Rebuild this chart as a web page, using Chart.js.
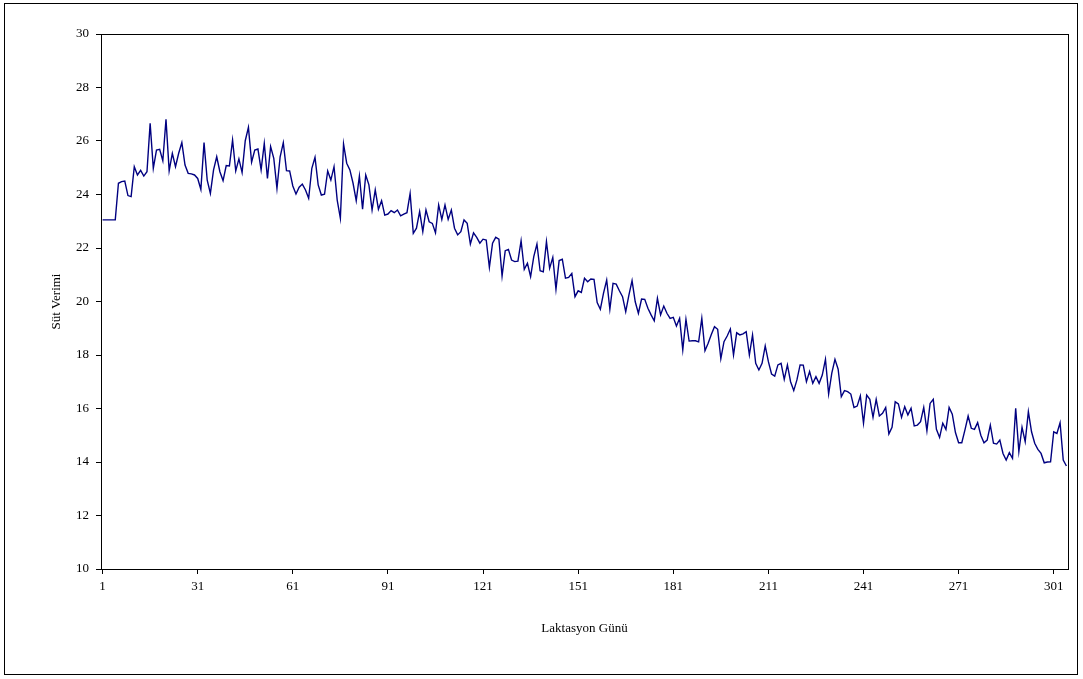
<!DOCTYPE html>
<html>
<head>
<meta charset="utf-8">
<script src="https://cdn.jsdelivr.net/npm/chart.js@4.4.0/dist/chart.umd.min.js"></script>
<style>
  html, body { margin: 0; padding: 0; background: #fff; }
  canvas { display: block; }
</style>
</head>
<body>
<canvas id="grafik" width="1083" height="679"></canvas>
<script>
// Günlük süt verimi (kg), laktasyonun 1. gününden itibaren
const sutVerimi = [
  23.05, 23.05, 23.05, 23.05, 23.05, 24.42, 24.48, 24.50, 23.96, 23.92,
  25.04, 24.73, 24.90, 24.69, 24.85, 26.66, 24.98, 25.66, 25.69, 25.26,
  26.81, 24.89, 25.54, 25.04, 25.54, 25.94, 25.10, 24.79, 24.77, 24.73,
  24.60, 24.19, 25.94, 24.54, 24.04, 24.92, 25.41, 24.85, 24.52, 25.08,
  25.07, 26.04, 24.88, 25.33, 24.82, 26.01, 26.51, 25.21, 25.66, 25.70,
  24.92, 25.91, 24.60, 25.79, 25.35, 24.23, 25.41, 25.94, 24.89, 24.88,
  24.32, 24.02, 24.27, 24.39, 24.17, 23.86, 24.98, 25.39, 24.36, 23.98,
  24.01, 24.88, 24.54, 25.04, 23.79, 23.11, 25.89, 25.17, 24.92, 24.42,
  23.77, 24.69, 23.45, 24.73, 24.36, 23.42, 24.17, 23.45, 23.77, 23.23,
  23.27, 23.40, 23.32, 23.42, 23.20, 23.27, 23.32, 24.04, 22.55, 22.74,
  23.36, 22.61, 23.42, 22.98, 22.92, 22.57, 23.61, 23.07, 23.61, 23.07,
  23.42, 22.74, 22.49, 22.61, 23.05, 22.92, 22.15, 22.57, 22.40, 22.18,
  22.33, 22.30, 21.28, 22.18, 22.40, 22.33, 20.95, 21.90, 21.95, 21.55,
  21.49, 21.51, 22.27, 21.20, 21.43, 20.93, 21.68, 22.15, 21.15, 21.11,
  22.24, 21.24, 21.65, 20.46, 21.53, 21.58, 20.87, 20.90, 21.05, 20.18,
  20.40, 20.34, 20.87, 20.74, 20.84, 20.83, 19.96, 19.71, 20.31, 20.80,
  19.71, 20.68, 20.65, 20.40, 20.18, 19.62, 20.24, 20.78, 19.99, 19.56,
  20.09, 20.08, 19.75, 19.50, 19.28, 20.12, 19.50, 19.83, 19.56, 19.37,
  19.41, 19.08, 19.37, 18.19, 19.33, 18.52, 18.53, 18.53, 18.49, 19.37,
  18.16, 18.44, 18.77, 19.06, 18.96, 17.86, 18.50, 18.71, 18.97, 18.00,
  18.83, 18.75, 18.79, 18.87, 18.00, 18.75, 17.69, 17.44, 17.69, 18.34,
  17.75, 17.29, 17.21, 17.63, 17.69, 17.09, 17.63, 17.00, 16.67, 17.07,
  17.63, 17.62, 17.00, 17.38, 16.94, 17.19, 16.94, 17.25, 17.84, 16.54,
  17.32, 17.84, 17.47, 16.44, 16.67, 16.63, 16.54, 16.04, 16.09, 16.47,
  15.45, 16.50, 16.34, 15.67, 16.34, 15.72, 15.82, 16.04, 15.05, 15.30,
  16.25, 16.17, 15.67, 16.07, 15.76, 16.01, 15.35, 15.38, 15.51, 16.04,
  15.17, 16.19, 16.34, 15.22, 14.92, 15.45, 15.22, 16.04, 15.79, 15.10,
  14.72, 14.72, 15.20, 15.72, 15.26, 15.22, 15.47, 15.00, 14.72, 14.82,
  15.38, 14.70, 14.67, 14.82, 14.32, 14.07, 14.35, 14.14, 16.01, 14.39,
  15.30, 14.76, 15.88, 15.13, 14.70, 14.47, 14.32, 13.97, 14.00, 14.01,
  15.13, 15.07, 15.47, 14.07, 13.85
];
const gunler = sutVerimi.map((_, i) => String(i + 1));
const etiketAraligi = 30;
const yMin = 10, yMax = 30, yAdim = 2;

const yaziTipi = { family: "'Liberation Serif', 'Times New Roman', serif", size: 13 };

// Çerçeveler: grafik alanı ve dış kenar
const cerceve = {
  id: 'cerceve',
  beforeDraw(chart) {
    const c = chart.ctx;
    c.save();
    c.fillStyle = '#fff';
    c.fillRect(0, 0, chart.width, chart.height);
    c.restore();
  },
  afterDraw(chart) {
    const c = chart.ctx, a = chart.chartArea;
    c.save();
    c.strokeStyle = '#000';
    c.lineWidth = 1;
    c.strokeRect(Math.round(a.left) + 0.5, Math.round(a.top) + 0.5,
      Math.round(a.right - a.left), Math.round(a.bottom - a.top));
    c.strokeRect(4.5, 3.5, 1073, 671);
    c.restore();
  }
};

new Chart(document.getElementById('grafik'), {
  type: 'line',
  data: {
    labels: gunler,
    datasets: [{
      data: sutVerimi,
      borderColor: '#000080',
      borderWidth: 1.4,
      pointRadius: 0,
      tension: 0,
      fill: false
    }]
  },
  options: {
    responsive: false,
    animation: false,
    devicePixelRatio: 1,
    layout: { padding: { left: 0, top: 34, right: 15, bottom: 0 } },
    plugins: { legend: { display: false }, tooltip: { enabled: false } },
    scales: {
      x: {
        type: 'category',
        offset: true,
        grid: {
          drawOnChartArea: false,
          offset: false,
          tickLength: 5,
          color: ctx => (ctx.index % etiketAraligi === 0 ? '#000' : 'rgba(0,0,0,0)')
        },
        border: { color: '#000', width: 1 },
        ticks: {
          autoSkip: false,
          maxRotation: 0,
          minRotation: 0,
          padding: 5,
          color: '#000',
          font: yaziTipi,
          callback: (v, i) => (i % etiketAraligi === 0 ? gunler[i] : '')
        },
        title: {
          display: true,
          text: 'Laktasyon Günü',
          color: '#000',
          font: yaziTipi,
          padding: { top: 0, bottom: 43 }
        },
        afterFit: s => { s.height = 110; }
      },
      y: {
        min: yMin,
        max: yMax,
        grid: { drawOnChartArea: false, tickLength: 5, color: '#000' },
        border: { color: '#000', width: 1 },
        ticks: { stepSize: yAdim, padding: 7, color: '#000', font: yaziTipi },
        title: {
          display: true,
          text: 'Süt Verimi',
          color: '#000',
          font: yaziTipi,
          padding: { top: 49, bottom: 0 }
        },
        afterFit: s => { s.width = 101; }
      }
    }
  },
  plugins: [cerceve]
});
</script>
</body>
</html>
